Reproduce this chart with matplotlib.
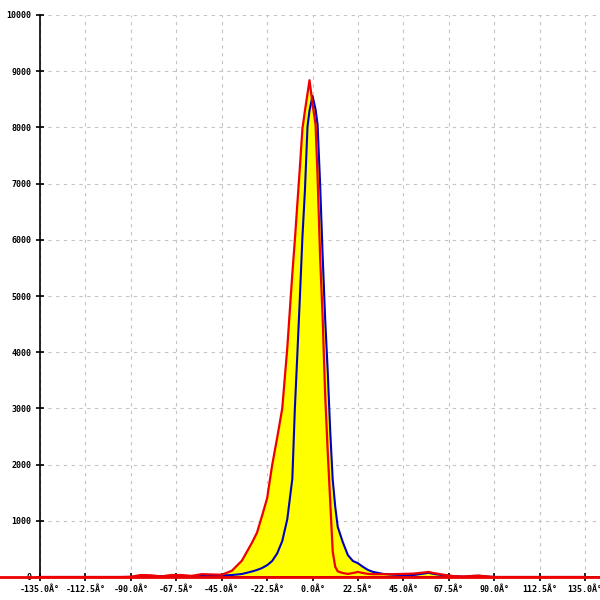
import numpy as np
import matplotlib

matplotlib.use("Agg")
import matplotlib.pyplot as plt

# angle grid (degrees) shared by both curves
angles = [-135, -95, -90, -85, -80, -75, -70, -65, -60, -55, -50, -45, -40,
          -35, -30, -27.5, -25, -22.5, -20, -17.5, -15, -12.5, -10, -8.75,
          -7.5, -6.25, -5, -3.75, -2.5, -1.5, 0, 1.5, 2.5, 3.75, 5, 6.25,
          7.5, 8.75, 10, 11.25, 12.5, 15, 17.5, 20, 22.5, 25, 27.5, 30, 35,
          40, 45, 50, 55, 57.5, 60, 65, 70, 75, 80, 82.5, 85, 90, 135]

red = [0, 0, 5, 35, 30, 10, 35, 35, 20, 50, 45, 40, 110,
       290, 610, 790, 1090, 1400, 1990, 2480, 3000, 4080, 5400, 6000,
       6650, 7300, 7980, 8300, 8600, 8840, 8420, 8050, 7120, 5700, 4620, 3250,
       2250, 1350, 450, 180, 100, 70, 55, 70, 90, 70, 55, 50, 50,
       50, 55, 60, 80, 90, 70, 40, 15, 10, 20, 25, 15, 0, 0]

blue = [0, 0, 0, 10, 10, 15, 20, 20, 15, 20, 20, 25, 35,
        53, 98, 125, 160, 210, 285, 420, 640, 1030, 1750, 3000,
        3980, 4990, 6050, 6890, 8010, 8300, 8560, 8320, 8050, 7000, 5730, 4600,
        3680, 2600, 1730, 1250, 890, 620, 390, 285, 245, 180, 125, 90, 55,
        40, 35, 35, 60, 75, 55, 30, 15, 5, 20, 20, 10, 0, 0]

xticks = [-135.0, -112.5, -90.0, -67.5, -45.0, -22.5, 0.0, 22.5, 45.0,
          67.5, 90.0, 112.5, 135.0]
yticks = list(range(0, 10001, 1000))

x = np.array(angles)
r = np.array(red)
b = np.array(blue)

fig = plt.figure(figsize=(6, 6), dpi=100)
ax = fig.add_axes([40 / 600, 23 / 600, 560 / 600, 562 / 600])

ax.fill_between(x, 0, np.maximum(r, b), color="#ffff00", lw=0, zorder=2)
ax.plot(x, b, color="#0000c0", lw=1.5, zorder=3)
ax.plot(x, r, color="#ee0000", lw=1.6, zorder=4)
ax.axhline(0, xmin=-0.08, xmax=1, color="#ee0000", lw=2, clip_on=False,
           zorder=5)

ax.set_xlim(-135, 142.4)
ax.set_ylim(0, 10000)
ax.set_xticks(xticks)
ax.set_xticklabels([f"{t:.1f}Â°" for t in xticks])
ax.set_yticks(yticks)
ax.grid(True, color="#c4c4c4", ls=(0, (3, 4)), lw=0.8, zorder=0)
ax.set_axisbelow(True)

for s in ("top", "right"):
    ax.spines[s].set_visible(False)
ax.spines["left"].set_linewidth(1.2)
ax.spines["bottom"].set_linewidth(1.2)
ax.tick_params(direction="inout", length=6, width=1.2, pad=3)
for lab in ax.get_xticklabels() + ax.get_yticklabels():
    lab.set_fontfamily("DejaVu Sans Mono")
    lab.set_fontsize(6)
    lab.set_fontweight("bold")

fig.savefig("out.png", dpi=100)
